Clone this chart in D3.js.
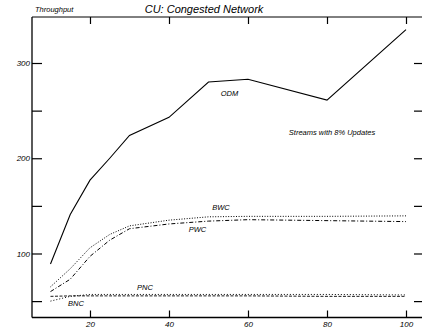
<!DOCTYPE html>
<html>
<head>
<meta charset="utf-8">
<script src="https://cdn.jsdelivr.net/npm/d3@7"></script>
<style>
  html, body { margin: 0; padding: 0; background: #fff; }
  svg { display: block; }
  text { font-family: "Liberation Sans", Arial, sans-serif; font-style: italic; fill: #000; }
</style>
</head>
<body>
<svg id="chart" width="422" height="328"></svg>
<script>
// Number of streams on the x axis
const streams = [10, 15, 20, 25, 30, 40, 50, 60, 80, 100];

// Throughput per scheme
const odm = [89, 141, 177, 200, 224, 243, 280, 283, 261, 335];
const bwc = [65, 84, 106, 120, 129, 135, 138.5, 139, 139, 139.5];
const pwc = [60, 73, 97, 114, 126, 131, 134, 135.5, 134.5, 133.5];
const pnc = [55, 55.5, 55.5, 55.5, 55.5, 55.5, 55.5, 55.5, 55, 55];
const bnc = [50, 55, 57, 57, 57, 57, 57, 57, 57, 56.5];

const xTicks = [20, 40, 60, 80, 100];
const yTicks = [50, 100, 150, 200, 250, 300];
const yLabels = [100, 200, 300];

const svg = d3.select("#chart");
const plotLeft = 32, plotRight = 422, plotTop = 17, plotBottom = 317.5;

const x = d3.scaleLinear().domain([5.32, 104.05]).range([plotLeft, plotRight]);
const y = d3.scaleLinear().domain([32.8, 348.3]).range([plotBottom, plotTop]);

// frame: left and bottom axes plus the top rule
svg.append("line").attr("x1", plotLeft).attr("x2", plotLeft).attr("y1", plotTop).attr("y2", plotBottom)
  .attr("stroke", "#000").attr("stroke-width", 1.3);
svg.append("line").attr("x1", plotLeft).attr("x2", plotRight).attr("y1", plotBottom).attr("y2", plotBottom)
  .attr("stroke", "#000").attr("stroke-width", 1.3);
svg.append("line").attr("x1", plotLeft).attr("x2", plotRight).attr("y1", plotTop).attr("y2", plotTop)
  .attr("stroke", "#000").attr("stroke-width", 1);

// bottom axis ticks and labels
const bAxis = d3.axisBottom(x).tickValues(xTicks).tickSize(-7).tickPadding(3.5);
const gb = svg.append("g").attr("transform", `translate(0,${plotBottom})`).call(bAxis);
gb.select(".domain").remove();
gb.selectAll("line").attr("stroke", "#000").attr("stroke-width", 1.2);
gb.selectAll("text").attr("font-size", 8).attr("font-family", "Liberation Sans").attr("font-style", "italic");

// top ticks
const tAxis = d3.axisTop(x).tickValues(xTicks).tickSize(-7).tickFormat("");
const gt = svg.append("g").attr("transform", `translate(0,${plotTop})`).call(tAxis);
gt.select(".domain").remove();
gt.selectAll("line").attr("stroke", "#000").attr("stroke-width", 1.2);

// left ticks and labels
const lAxis = d3.axisLeft(y).tickValues(yTicks).tickSize(-10).tickPadding(2)
  .tickFormat(d => yLabels.includes(d) ? d : "");
const gl = svg.append("g").attr("transform", `translate(${plotLeft},0)`).call(lAxis);
gl.select(".domain").remove();
gl.selectAll("line").attr("stroke", "#000").attr("stroke-width", 1.2);
gl.selectAll("text").attr("font-size", 8).attr("font-family", "Liberation Sans").attr("font-style", "italic");

// right ticks
const rAxis = d3.axisRight(y).tickValues(yTicks).tickSize(-8).tickFormat("");
const gr = svg.append("g").attr("transform", `translate(${plotRight},0)`).call(rAxis);
gr.select(".domain").remove();
gr.selectAll("line").attr("stroke", "#000").attr("stroke-width", 1.2);

// series lines
const series = [
  { name: "ODM", values: odm, dash: null, w: 1.1 },
  { name: "BWC", values: bwc, dash: "1,1.6", w: 1 },
  { name: "PWC", values: pwc, dash: "4,2,1,2", w: 1 },
  { name: "PNC", values: pnc, dash: "3,1.5", w: 0.9 },
  { name: "BNC", values: bnc, dash: "1,2", w: 1 }
];

const line = d3.line()
  .x((d, i) => x(streams[i]))
  .y(d => y(d));

svg.selectAll("path.series").data(series).enter().append("path")
  .attr("class", "series")
  .attr("d", d => line(d.values))
  .attr("fill", "none")
  .attr("stroke", "#000")
  .attr("stroke-width", d => d.w)
  .attr("stroke-dasharray", d => d.dash);

// titles and annotations
svg.append("text").attr("x", 204).attr("y", 13).attr("text-anchor", "middle")
  .attr("font-size", 11).text("CU: Congested Network");
svg.append("text").attr("x", 35).attr("y", 12).attr("font-size", 7.5).text("Throughput");
svg.append("text").attr("x", 332).attr("y", 135).attr("text-anchor", "middle")
  .attr("font-size", 7.5).text("Streams with 8% Updates");

const labels = [
  { t: "ODM", x: 229.5, y: 96 },
  { t: "BWC", x: 221, y: 210 },
  { t: "PWC", x: 197.5, y: 232 },
  { t: "PNC", x: 145, y: 289.5 },
  { t: "BNC", x: 76, y: 305.5 }
];
svg.selectAll("text.lbl").data(labels).enter().append("text")
  .attr("class", "lbl")
  .attr("x", d => d.x).attr("y", d => d.y)
  .attr("text-anchor", "middle")
  .attr("font-size", 7.5)
  .text(d => d.t);
</script>
</body>
</html>
